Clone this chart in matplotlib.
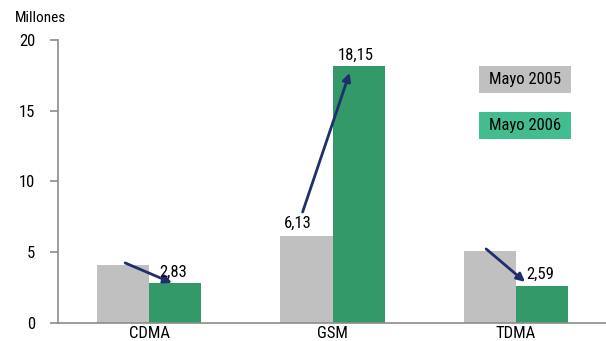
import matplotlib.pyplot as plt
from matplotlib.patches import Rectangle
import numpy as np

plt.rcParams['font.family'] = ['Roboto Condensed', 'Archivo Narrow', 'PT Sans Narrow',
                               'Liberation Sans Narrow', 'DejaVu Sans']

categories = ['CDMA', 'GSM', 'TDMA']
mayo_2005 = [4.1, 6.13, 5.05]
mayo_2006 = [2.83, 18.15, 2.59]
labels_2005 = ['', '6,13', '']
labels_2006 = ['2,83', '18,15', '2,59']
series_names = ['Mayo 2005', 'Mayo 2006']

gray = '#c0c0c0'
green = '#339966'
green_leg = '#43bd8f'
navy = '#1f2f6e'
axis_gray = '#8c8c8c'

fig = plt.figure(figsize=(6.06, 3.41), dpi=100)
ax = fig.add_axes([0.0957, 0.053, 0.95, 0.83])

x = np.arange(len(categories))
w = 0.285
ax.bar(x - w / 2, mayo_2005, w, color=gray, zorder=2)
ax.bar(x + w / 2, mayo_2006, w, color=green, zorder=2)

# arrows from the 2005 bar towards the 2006 bar
arrow_specs = [(-0.13, 4.24, 0.125, 2.83),
               (-0.163, 7.84, 0.093, 17.67),
               (-0.163, 5.23, 0.049, 2.9)]
for i, (x0, y0, x1, y1) in enumerate(arrow_specs):
    ax.annotate('', xy=(i + x1, y1), xytext=(i + x0, y0),
                arrowprops=dict(arrowstyle='-|>', color=navy, lw=2,
                                mutation_scale=12, shrinkA=0, shrinkB=0),
                zorder=4)

# value labels
fs = 12
ax.text(0 + 0.134, 2.83 + 0.25, labels_2006[0], ha='center', va='bottom', fontsize=fs, zorder=5)
ax.text(1 + 0.125, 18.15 + 0.25, labels_2006[1], ha='center', va='bottom', fontsize=fs, zorder=5)
ax.text(1 - 0.19, 6.13 + 0.35, labels_2005[1], ha='center', va='bottom', fontsize=fs, zorder=5)
ax.text(2 + 0.13, 2.59 + 0.3, labels_2006[2], ha='center', va='bottom', fontsize=fs, zorder=5)

ax.set_xlim(-0.496, 2.641)
ax.set_ylim(0, 20)
ax.set_yticks([0, 5, 10, 15, 20])
ax.set_xticks(x)
ax.set_xticklabels(categories, fontsize=fs)
ax.tick_params(axis='x', length=0, pad=2)
ax.tick_params(axis='y', length=6, color=axis_gray, width=1.2, labelsize=fs, pad=10.5)

for s in ['top', 'right']:
    ax.spines[s].set_visible(False)
for s in ['left', 'bottom']:
    ax.spines[s].set_color(axis_gray)
    ax.spines[s].set_linewidth(1.2)

fig.text(15 / 606, 1 - 18 / 341, 'Millones', ha='left', va='center', fontsize=11)

# legend boxes
for name, col, top in zip(series_names, [gray, green_leg], [66, 112]):
    fig.patches.append(Rectangle((479 / 606, 1 - (top + 27) / 341), 92 / 606, 27 / 341,
                                 transform=fig.transFigure, fc=col, ec='none'))
    fig.text(525 / 606, 1 - (top + 13.5) / 341, name, ha='center', va='center', fontsize=fs)

fig.savefig('out.png', dpi=100)
